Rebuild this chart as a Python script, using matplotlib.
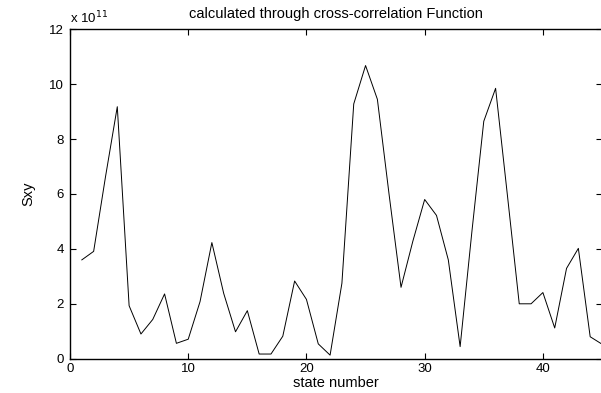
import matplotlib
matplotlib.use("Agg")
import matplotlib.pyplot as plt

plt.rcParams['font.family'] = ['Liberation Sans', 'DejaVu Sans']

states = list(range(1, 46))
sxy = [3.60, 3.91, 6.62, 9.18, 1.93, 0.90, 1.43, 2.36, 0.56, 0.71,
       2.08, 4.23, 2.38, 0.98, 1.75, 0.17, 0.17, 0.82, 2.83, 2.16,
       0.54, 0.13, 2.75, 9.28, 10.68, 9.45, 5.95, 2.60, 4.28, 5.80,
       5.22, 3.60, 0.44, 4.65, 8.65, 9.85, 5.95, 2.00, 2.00, 2.41,
       1.12, 3.29, 4.02, 0.80, 0.53]
scale_exp = 11
xticks = [0, 10, 20, 30, 40]
yticks = [0, 2, 4, 6, 8, 10, 12]

fig = plt.figure(figsize=(6.01, 3.93), dpi=100)
ax = fig.add_axes([70/601, 34.3/393, 532/601, 329.4/393])
ax.plot(states, sxy, color='black', linewidth=0.7)
ax.set_xlim(0, 45)
ax.set_ylim(0, 12)
ax.set_xticks(xticks)
ax.set_yticks(yticks)
ax.tick_params(direction='in', length=4, width=0.8, top=True, right=True,
               labelsize=9.5)
ax.tick_params(axis='x', pad=3)
ax.tick_params(axis='y', pad=4.5)
for s in ax.spines.values():
    s.set_linewidth(1.0)
ax.set_title('calculated through cross-correlation Function', fontsize=10.5, pad=8)
ax.set_xlabel('state number', fontsize=10.5, labelpad=1)
ax.set_ylabel('Sxy', fontsize=10.5, labelpad=10)
ax.text(0.0, 1.01, r'x 10$^{%d}$' % scale_exp, transform=ax.transAxes,
        fontsize=9.5, ha='left', va='bottom')

fig.savefig('out.png', dpi=100)
